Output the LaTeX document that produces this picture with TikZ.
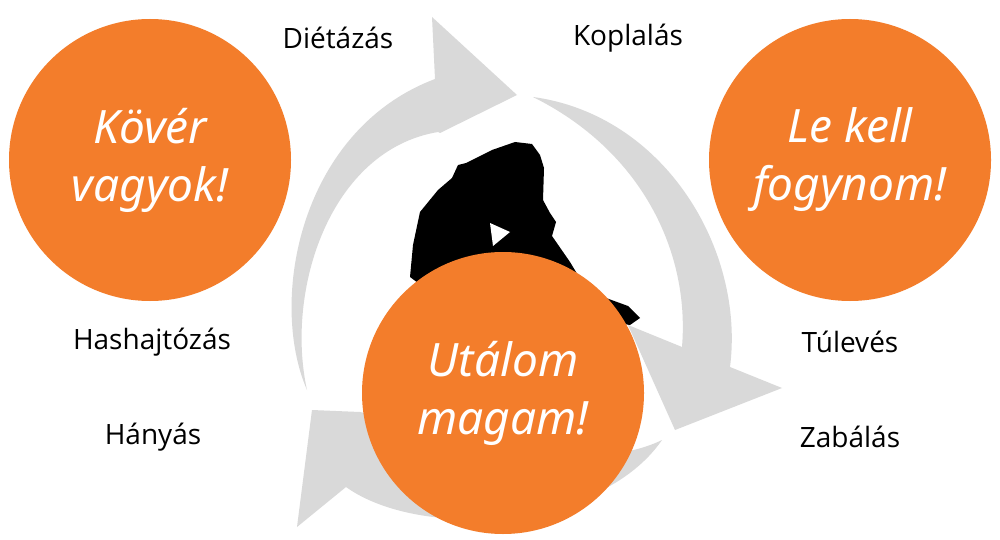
\documentclass[tikz,border=0pt]{standalone}
\usepackage{fontspec}
\setmainfont{Open Sans}
\newfontfamily\handfont{Noto Sans}
\definecolor{org}{HTML}{F37D2B}
\definecolor{gr}{HTML}{D9D9D9}
\begin{document}
\begin{tikzpicture}[x=1pt,y=-1pt,
  bubble/.style={circle,fill=org,minimum size=282pt,inner sep=0pt,align=center,text=white,font=\handfont\itshape\fontsize{46}{58}\selectfont},
  lab/.style={font=\fontsize{28}{32}\selectfont,text=black}]
\useasboundingbox[fill=white] (0,0) rectangle (1000,540);
% arrows
\fill[gr] (307,390) .. controls (268,300) and (300,130) .. (435,79) -- (432,17) -- (517,95) -- (440,133) -- (438,132) .. controls (330,150) and (285,290) .. (307,390) -- cycle;
\fill[gr] (533,97) .. controls (665,115) and (745,250) .. (730,367) -- (782,388) -- (675,430) -- (628,325) -- (682,347) .. controls (690,250) and (640,150) .. (533,97) -- cycle;
\fill[gr] (662,440) .. controls (600,530) and (420,540) .. (346,487) -- (297,527) -- (312,410) -- (360,412) .. controls (450,430) and (580,480) .. (662,440) -- cycle;
% silhouette
\fill[black] (410,277) -- (413,245) -- (420,212) -- (438,190) -- (452,178) -- (458,165) -- (466,163) -- (472,160) -- (492,150) -- (515,142) -- (532,144) -- (540,155) -- (544,168) -- (543,200) -- (550,213) -- (556,222) -- (552,236) -- (570,262) -- (588,292) -- (606,298) -- (628,306) -- (640,318) -- (630,325) -- (600,320) -- (520,285) -- (430,292) -- cycle;
\fill[white] (490,223) -- (510,232) -- (493,246) -- cycle;
% bubbles
\node[bubble] (a) at (150,160) {Kövér\\vagyok!};
\node[bubble] (b) at (850,160) {Le kell\\fogynom!};
\node[bubble] (c) at (503,393) {Utálom\\magam!};
% labels
\node[lab] (l1) at (338,38) {Diétázás};
\node[lab] (l2) at (628,38) {Koplalás};
\node[lab] (l3) at (152,342) {Hashajtózás};
\node[lab] (l4) at (153,437) {Hányás};
\node[lab] (l5) at (850,342) {Túlevés};
\node[lab] (l6) at (850,437) {Zabálás};
\end{tikzpicture}
\end{document}
